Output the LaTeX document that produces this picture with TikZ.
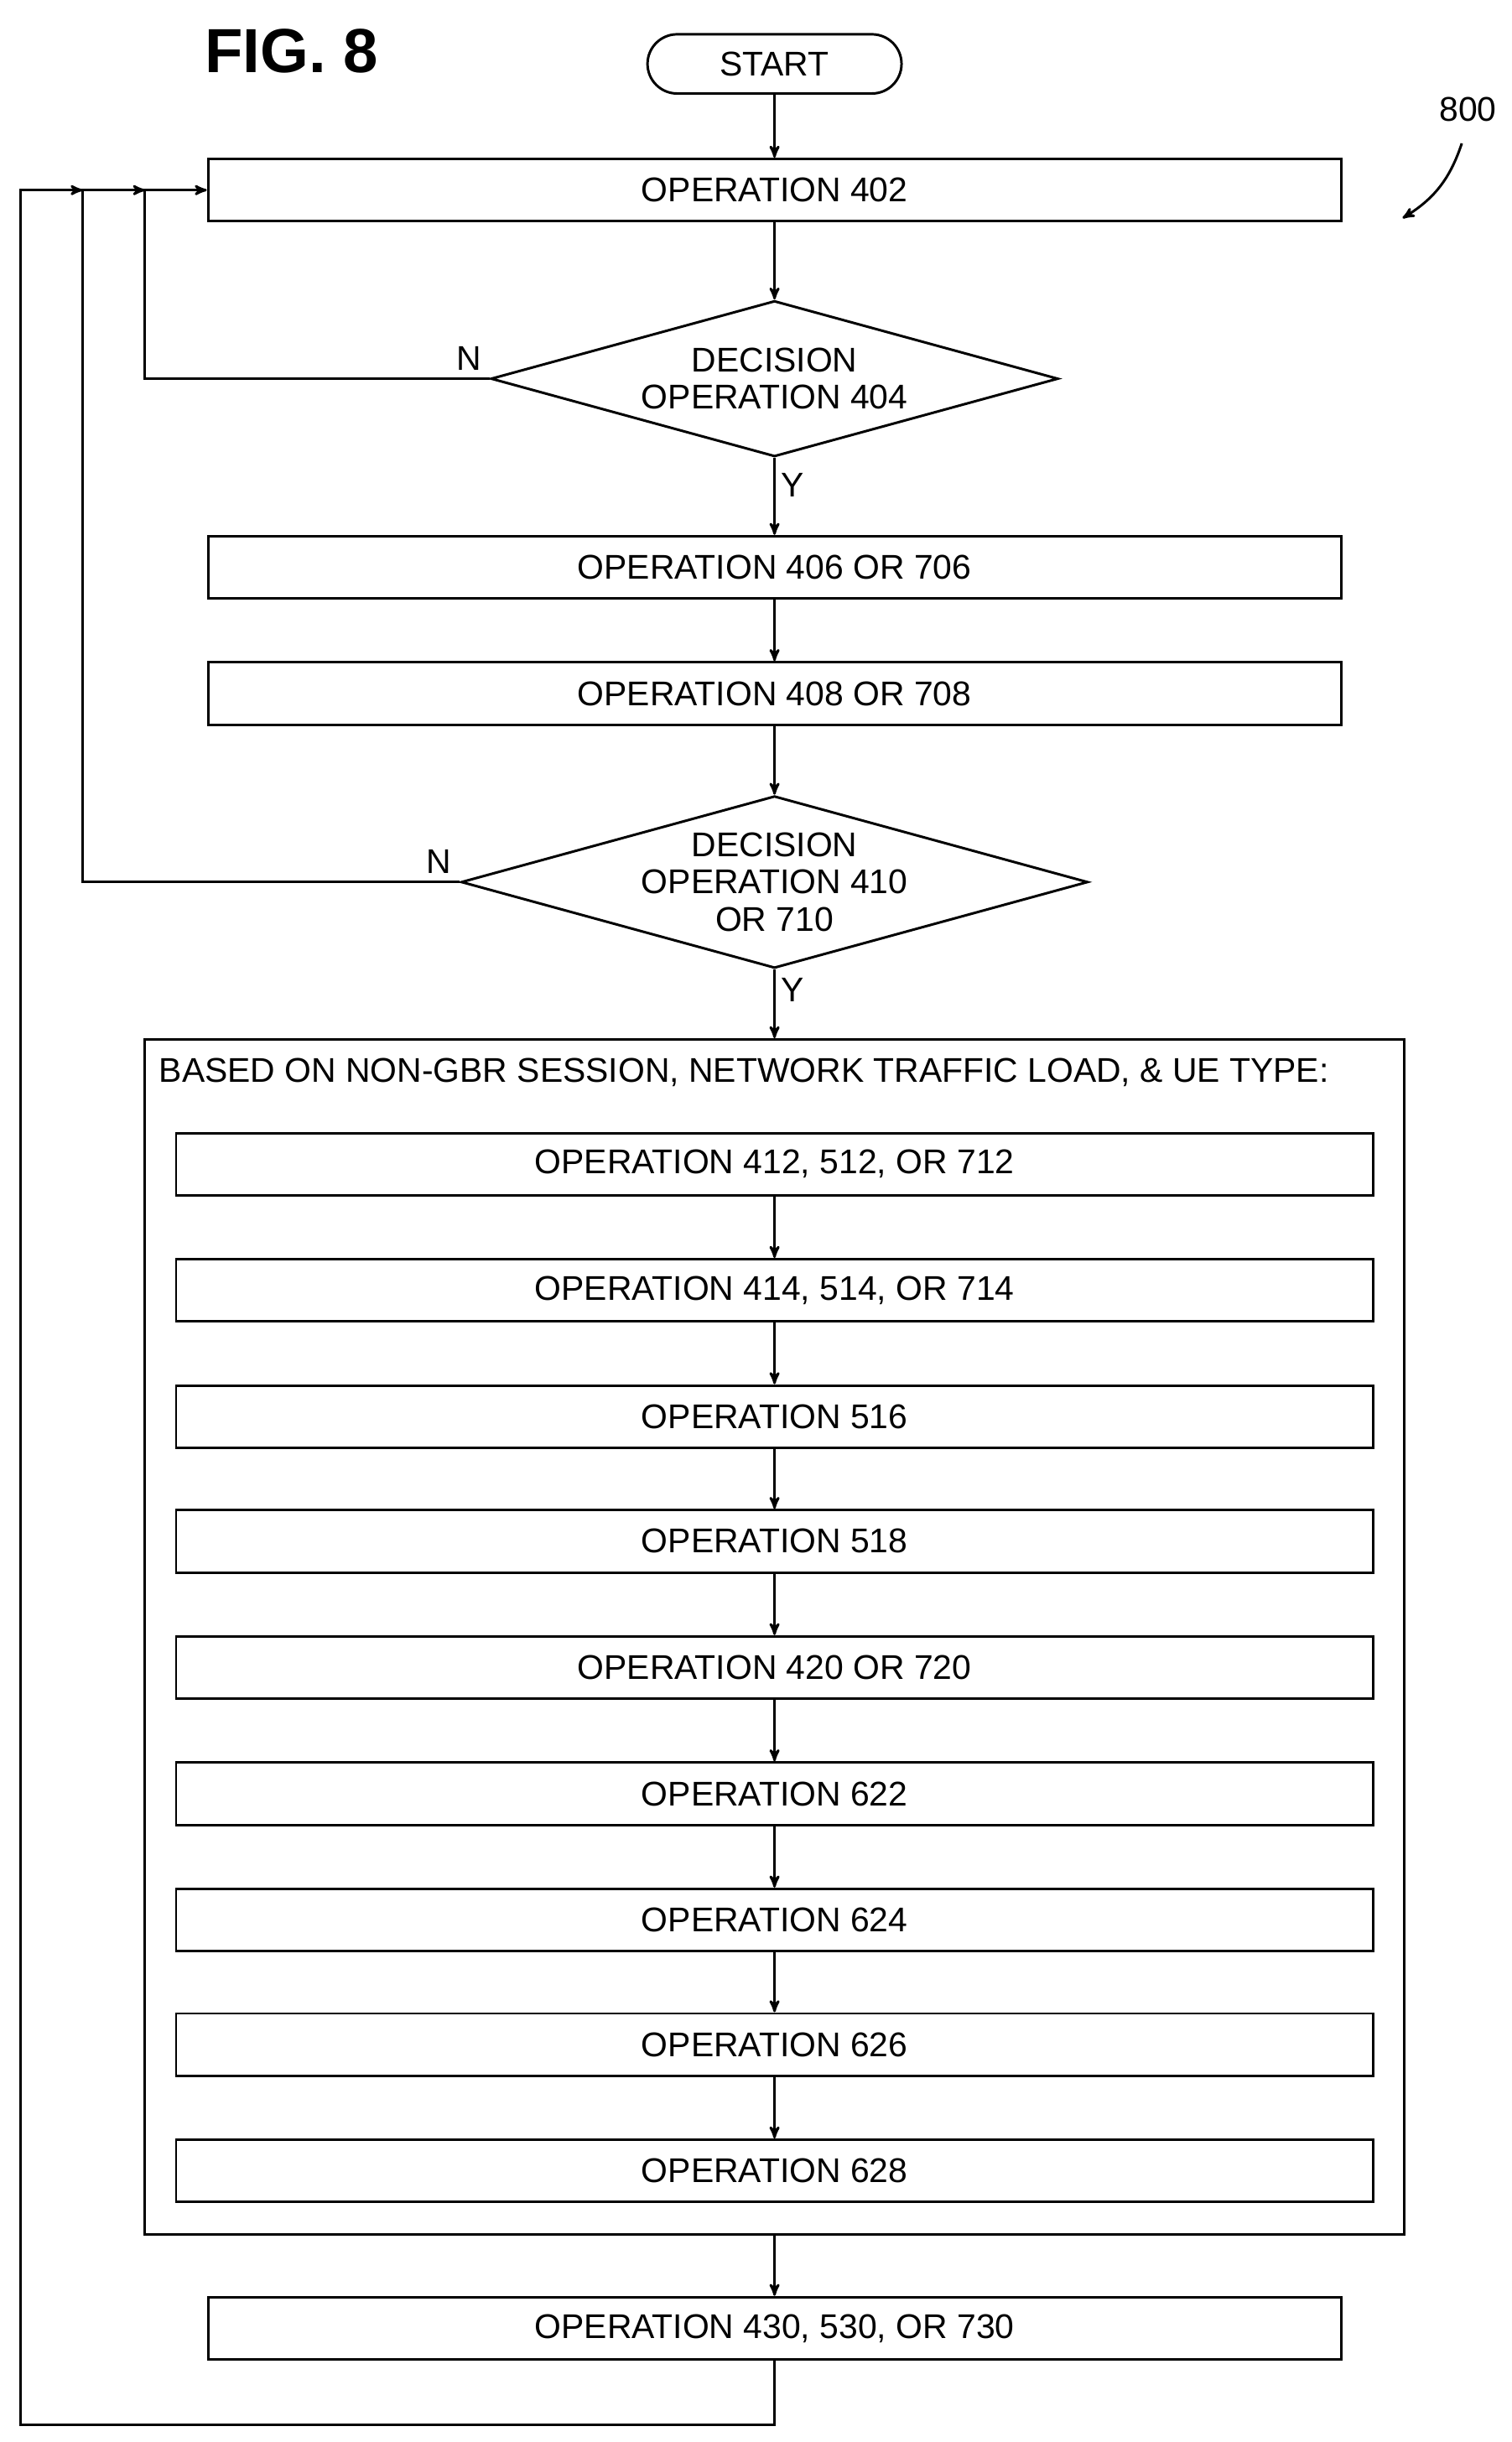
\documentclass[tikz,border=0pt]{standalone}
\usepackage{fontspec}
\setmainfont{Liberation Sans}
\usetikzlibrary{arrows,positioning,shapes,calc}

\begin{document}
\begin{tikzpicture}[
      x=1pt,y=-1pt,
      >=stealth',
      line width=1.6pt,
      font=\fontsize{22}{25}\selectfont,
      op/.style={draw,minimum height=40,inner sep=0},
      wide/.style={op,minimum width=727},
      inner/.style={op,minimum width=768},
      dec/.style={draw,diamond,aspect=3.64,minimum width=364,minimum height=100,inner sep=0,align=center,font=\fontsize{22}{24}\selectfont},
      flow/.style={->,shorten >=0pt}
    ]
    \useasboundingbox (0,0) rectangle (970,1567);
    \node[font=\fontsize{40}{40}\selectfont\bfseries] (fig) at (187,33) {FIG. 8};
    \node (num) at (942,70) {800};
    \draw[->] (938,92) to[bend left=20] (900,140);

    \node[draw,rounded corners=19,minimum width=163,minimum height=38,inner sep=0] (start) at (497,41) {START};
    \node[wide] (402) at (497,122) {OPERATION 402};
    \node[dec] (404) at (497,243) {DECISION\\OPERATION 404};
    \node[wide] (406) at (497,364) {OPERATION 406 OR 706};
    \node[wide] (408) at (497,445) {OPERATION 408 OR 708};
    \node[dec] (410) at (497,566) {DECISION\\OPERATION 410\\OR 710};
    \node[draw,minimum width=808,minimum height=767,inner sep=0] (group) at (497,1050.5) {};
    \node[anchor=west] (title) at (98,688) {BASED ON NON-GBR SESSION, NETWORK TRAFFIC LOAD, \& UE TYPE:};
    \node[inner] (412) at (497,747) {OPERATION 412, 512, OR 712};
    \node[inner] (414) at (497,828) {OPERATION 414, 514, OR 714};
    \node[inner] (516) at (497,909) {OPERATION 516};
    \node[inner] (518) at (497,989) {OPERATION 518};
    \node[inner] (420) at (497,1070) {OPERATION 420 OR 720};
    \node[inner] (622) at (497,1151) {OPERATION 622};
    \node[inner] (624) at (497,1232) {OPERATION 624};
    \node[inner] (626) at (497,1312) {OPERATION 626};
    \node[inner] (628) at (497,1393) {OPERATION 628};
    \node[wide] (430) at (497,1494) {OPERATION 430, 530, OR 730};

    \draw[flow] (start) -- (402);
    \draw[flow] (402) -- (404);
    \draw[flow] (404) -- node[pos=0.35,right] {Y} (406);
    \draw[flow] (406) -- (408);
    \draw[flow] (408) -- (410);
    \draw[flow] (410) -- node[pos=0.3,right] {Y} (group);
    \foreach \a/\b in {412/414,414/516,516/518,518/420,420/622,622/624,624/626,626/628}
      \draw[flow] (\a) -- (\b);
    \draw[flow] (group) -- (430);

    % loops back
    \coordinate (j1) at (93,122);
    \coordinate (j2) at (53,122);
    \draw[flow] (404.west) node[above left=2pt] {N} -| (93,122) -- (402.west);
    \draw[flow] (410.west) node[above left=2pt] {N} -| (53,122) -- (j1);
    \draw[flow] (430.south) |- (13,1556) -- (13,122) -- (j2);
\end{tikzpicture}
\end{document}
